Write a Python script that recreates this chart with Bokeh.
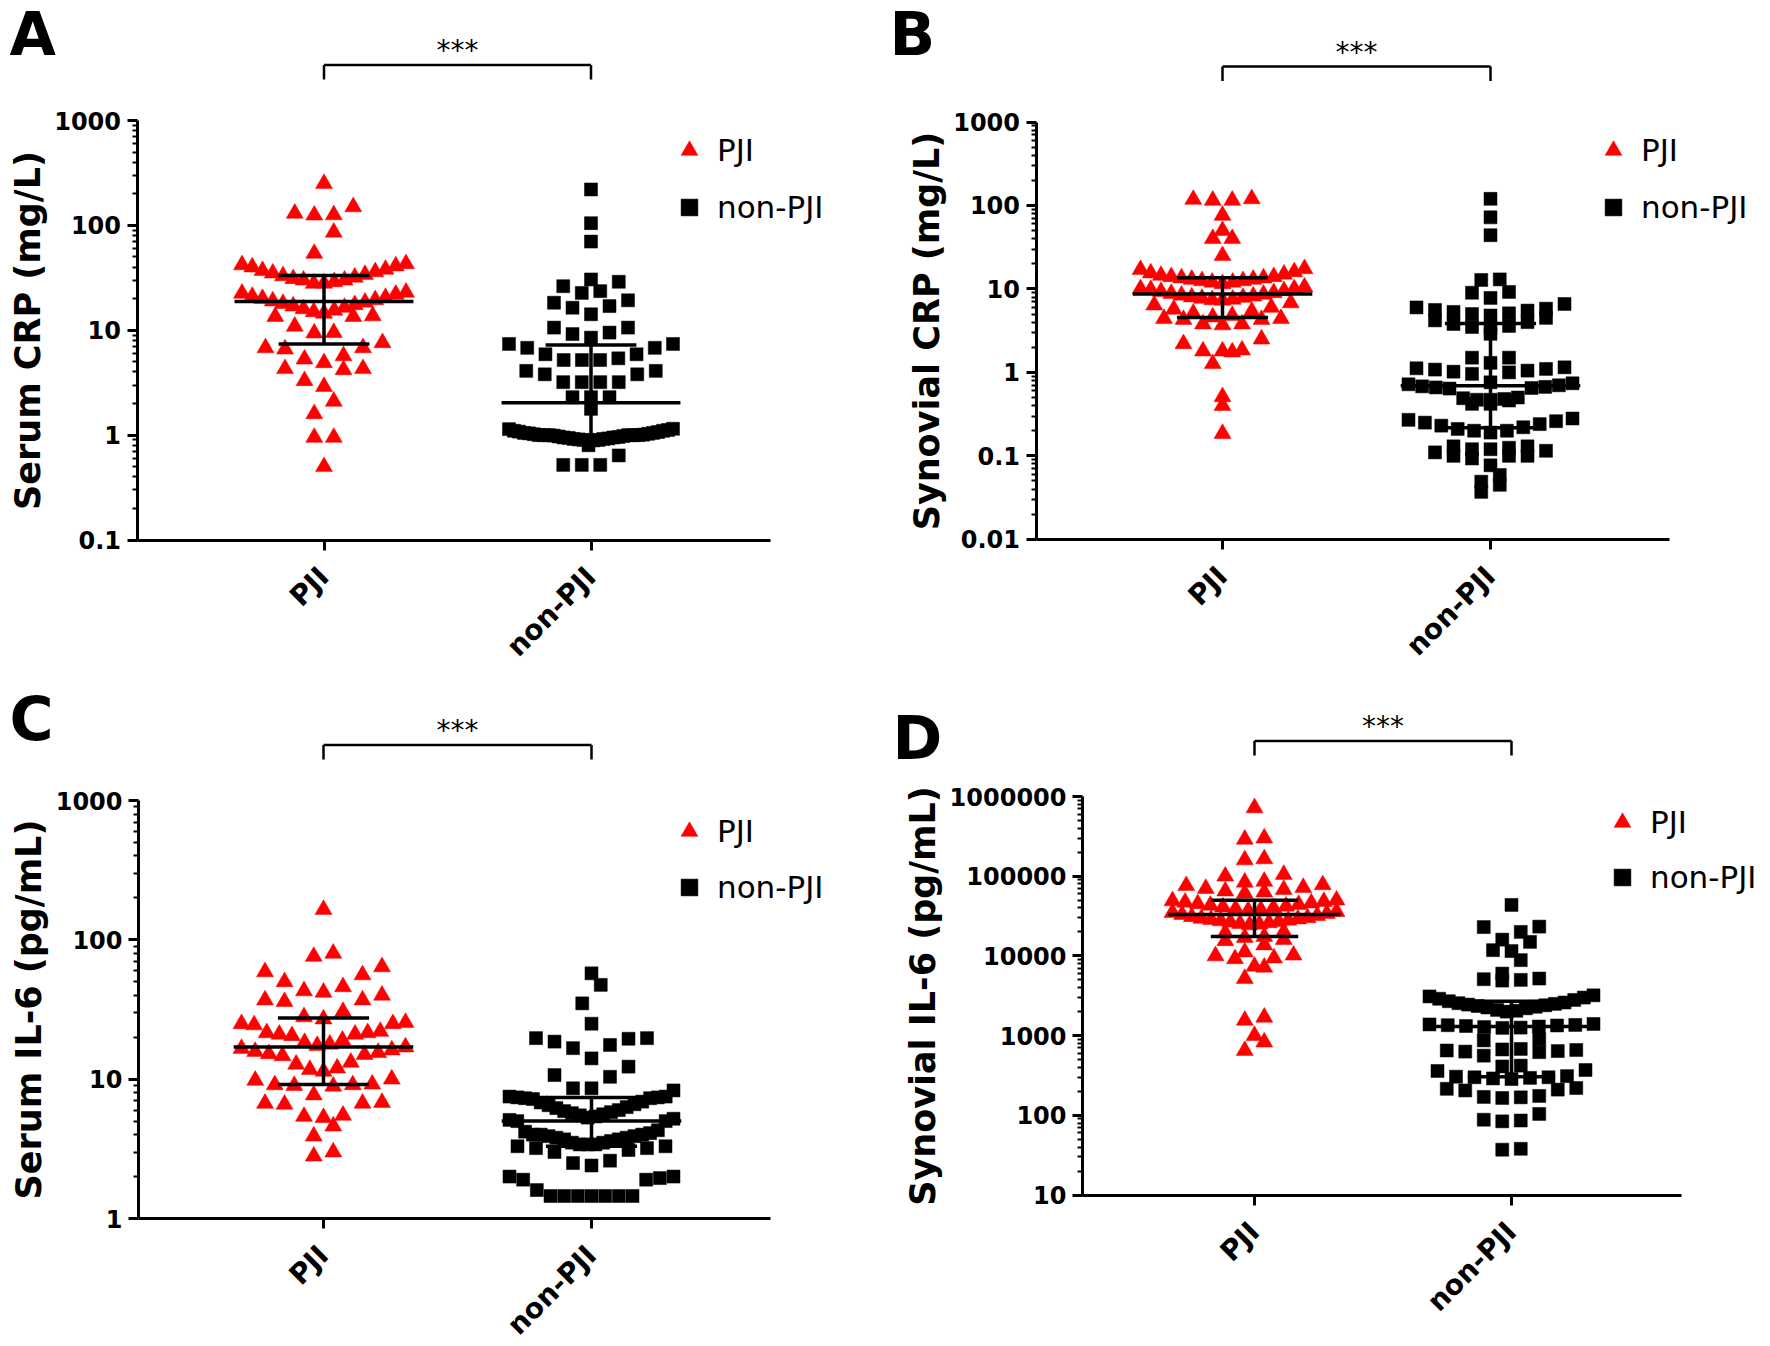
import math
import numpy as np
from bokeh.plotting import figure
from bokeh.layouts import gridplot
from bokeh.models import (FixedTicker, CustomJSTickFormatter, Label, Legend,
                          LegendItem, Range1d)
from bokeh.embed import file_html
from bokeh.resources import INLINE

# ---------------- data ----------------
categories = ["PJI", "non-PJI"]
group_labels = ["PJI", "non-PJI"]

# A: Serum CRP (mg/L)
a_pji = [250, 150, 130, 126, 125, 86, 54,
         43, 42, 41, 40, 38, 37, 36, 35, 34, 33, 32, 31, 30, 30, 29, 28, 28,
         23, 22.5, 22, 21, 20.5, 20, 19.5, 19, 18.5, 18, 17.5, 17, 16.5, 16, 15.5, 15, 14.5,
         13.7, 13.5, 13.5, 10.9, 9.5, 9.4, 7.6, 6.8, 6.8, 6.6, 5.7, 5.3, 4.9,
         4.3, 4.3, 4.2, 3.3, 2.9, 2.1, 1.6, 0.95, 0.95, 0.5]
a_non = [220, 105, 70, 30.5, 29, 26.3, 23.6, 22.7, 19.3, 18.3, 17, 16.4, 14.2,
         10.6, 10.6, 9.5, 9.2, 8.5, 7.4, 7.4, 6.8, 6.8, 5.9, 5.9, 5.4, 5.2, 5.2, 5.2,
         4.1, 4.1, 3.8, 3.8, 3.2, 3.2, 3.2, 3.2, 2.3, 2.3, 2.3, 1.78,
         1.15, 1.14, 1.12, 1.1, 1.1, 1.08, 1.07, 1.05, 1.05, 1.04, 1.03, 1.02, 1.01,
         1.0, 1.0, 1.0, 1.0, 1.0, 1.0, 0.99, 0.98, 0.97, 0.96, 0.95, 0.95, 0.94, 0.93,
         0.92, 0.92, 0.91, 0.9, 0.9, 0.89,
         0.8, 0.64, 0.52, 0.52, 0.52]

# B: Synovial CRP (mg/L)
b_pji = [120, 118, 115, 115, 76, 50, 40, 40, 25,
         17.4, 17, 16, 15.5, 15, 14.5, 14, 14, 13.5, 13.5, 13, 13, 12.5, 12.5, 12, 12, 11.5,
         10.5, 10, 10, 9.8, 9.5, 9.3, 9, 8.8, 8.6, 8.4, 8.2, 8, 7.9, 7.7, 7.5, 7.4, 7.3,
         6.8, 6.4, 6, 5.7, 5.4, 5.1, 4.8, 4.6,
         4.4, 4.4, 4.3, 4.3, 3.8, 3.8, 3.7, 2.5, 2.2, 1.85, 1.8, 1.8, 1.75, 1.27,
         0.51, 0.40, 0.185]
b_non = [120, 72, 44, 13, 12.8, 9.2, 9.0, 7.8, 6.6,
         6.0, 5.8, 5.6, 5.5, 5.3, 5.1, 5.0, 4.8, 4.5, 4.2, 4.0, 3.8, 3.6, 3.5, 3.4,
         2.9, 1.5, 1.5, 1.3,
         1.15, 1.12, 1.1, 1.08, 1.05, 1.02, 1.0, 0.96,
         0.76, 0.74, 0.72, 0.70, 0.68, 0.67, 0.66, 0.65, 0.64,
         0.50, 0.49, 0.48, 0.47, 0.47, 0.46, 0.42, 0.42,
         0.28, 0.27, 0.26, 0.25, 0.24, 0.23, 0.22, 0.21, 0.20, 0.20, 0.19,
         0.13, 0.13, 0.125, 0.12, 0.12, 0.115, 0.11,
         0.10, 0.10, 0.10, 0.093, 0.077, 0.059, 0.049, 0.045, 0.037]

# C: Serum IL-6 (pg/mL)
c_pji = [165, 80, 76, 64, 59, 56, 50, 46, 43, 42, 40, 37, 37, 36, 30.5, 28, 27, 25.5, 25, 25, 24.5,
         22, 21.5, 21.5, 21, 21, 20.5, 19, 18.3, 17.8, 17.4,
         17.0, 16.6, 16.2, 15.8, 15.5, 15.2, 15.0, 14.7, 13.2, 12.8, 12, 11.7, 11.4,
         10, 9.8, 9.2, 9.1, 9.1, 9.0, 8.9, 7.7, 6.8, 6.7, 6.7, 6.6, 5.5, 5.4, 5.3,
         4.6, 3.9, 3.0, 2.8]
c_non = [57.5, 47.5, 35, 25, 19.7, 19.7, 19.5, 18.6, 17.6, 16.7, 14.1, 12.3, 10.7, 10.4,
         8.6, 8.6, 8.3, 7.5, 7.5, 7.4, 7.4, 7.3, 7.3, 7.2,
         6.9, 6.8, 6.6, 6.5, 6.3, 6.2, 6.0, 5.9, 5.8, 5.7, 5.6, 5.5, 5.4, 5.3, 5.2, 5.1, 5.0, 5.0,
         4.3, 4.2, 4.1, 4.0, 4.0, 4.0, 3.9, 3.9, 3.8, 3.8, 3.7, 3.7, 3.6,
         3.5, 3.5, 3.4, 3.4, 3.4, 3.3, 3.3, 3.2, 3.2, 3.1, 3.0,
         2.6, 2.5, 2.4, 2.0, 2.0, 1.95, 1.9, 1.9, 1.6,
         1.45, 1.45, 1.45, 1.45, 1.45, 1.45, 1.45]

# D: Synovial IL-6 (pg/mL)
d_pji = [720000, 300000, 290000, 165000, 160000, 105000, 100000, 86000, 84000,
         78000, 76000, 72000, 70000, 68000, 65000, 63000, 61000,
         50000, 49000, 48000, 47000, 46000, 45000, 44000, 43000, 42000, 41000, 40000, 39000,
         38000, 37000,
         36000, 35000, 34000, 33000, 32000, 31000, 30000, 29500, 29000, 28500, 28000, 27500,
         27000, 26500, 26000, 25500, 25000, 24500,
         20000, 19500, 17500, 17000, 16000, 15500, 13700, 11200, 10200, 10000, 9400, 9200,
         7400, 7200, 5200, 1700, 1550, 1000, 830, 650]
d_non = [43600, 23300, 23000, 20000, 16000, 15000, 11800, 11500, 8850, 6000, 5200, 5100, 5000, 4900,
         3200, 3100, 3000, 2900, 2800, 2700, 2600, 2550, 2500, 2450, 2400, 2350, 2300, 2250,
         2200, 2100, 2050, 2000,
         1400, 1380, 1360, 1350, 1340, 1320, 1300, 1280, 1260, 1250,
         900, 870, 680, 670, 660, 650, 640, 630, 620, 560,
         420, 410, 370, 360, 310, 305, 300, 300, 295, 290, 285, 220, 215, 210, 205,
         175, 170, 168, 165, 104, 88, 86, 84, 38, 37]

a_ylabel = "Serum CRP (mg/L)"
b_ylabel = "Synovial CRP (mg/L)"
c_ylabel = "Serum IL-6 (pg/mL)"
d_ylabel = "Synovial IL-6 (pg/mL)"

a_yticks = [0.1, 1, 10, 100, 1000]
b_yticks = [0.01, 0.1, 1, 10, 100, 1000]
c_yticks = [1, 10, 100, 1000]
d_yticks = [10, 100, 1000, 10000, 100000, 1000000]

significance = "***"

# ---------------- layout / style ----------------
RED = "#FF0000"
BLACK = "#000000"
TRI_SIZE = 17
SQ_SIZE = 13
TRI_SPACING = 19.5
SQ_SPACING = 18.5
MAX_HALF = 82
FIG_W, FIG_H = 884, 672

# geometry in pixels inside each figure: y-axis x, axis top/bottom y, x-axis end,
# first category x, pixels per category step; legend box bottom-left; letter centre
panels = [
    dict(letter="A", ylabel=a_ylabel, ticks=a_yticks, data=(a_pji, a_non),
         ax=136.5, top=120, bot=539.5, right=770, cat0=323.5, unit=267,
         legend=(668, 444), lspacing=15, letter_xy=(9, 33),
         bins=((0.26, 1.155), (0.198, -0.1))),
    dict(letter="B", ylabel=b_ylabel, ticks=b_yticks, data=(b_pji, b_non),
         ax=151.5, top=121.5, bot=538.8, right=785, cat0=338, unit=268,
         legend=(708, 444), lspacing=15, letter_xy=(5, 33),
         bins=((0.2, 0.645), (0.2, -0.53))),
    dict(letter="C", ylabel=c_ylabel, ticks=c_yticks, data=(c_pji, c_non),
         ax=138, top=128, bot=546, right=770, cat0=323, unit=268,
         legend=(668, 436), lspacing=14, letter_xy=(9, 46),
         bins=((0.19, 1.24), (0.2, 0.32))),
    dict(letter="D", ylabel=d_ylabel, ticks=d_yticks, data=(d_pji, d_non),
         ax=198, top=124, bot=522.5, right=797, cat0=370, unit=257,
         legend=(717, 446), lspacing=13, letter_xy=(8, 65),
         bins=((0.175, 4.385), (0.23, 3.28))),
]


def swarm(vals, unit_px, spacing_px, step_dec, base_log):
    """GraphPad-like column scatter: bin by log value, spread each bin
    horizontally (lowest value at centre), compress wide bins."""
    v = np.asarray(vals, float)
    lv = np.log10(v)
    bins = np.floor((lv - base_log) / step_dec + 1e-9).astype(int)
    off = np.zeros(len(v))
    for b in np.unique(bins):
        idx = np.where(bins == b)[0]
        idx = idx[np.argsort(v[idx], kind="stable")]
        m = len(idx)
        sp = spacing_px if m < 2 else min(spacing_px, 2 * MAX_HALF / (m - 1))
        if m % 2:
            seq = [0] + [s * k for k in range(1, m) for s in (-1, 1)]
        else:
            seq = [s * (k - 0.5) for k in range(1, m) for s in (-1, 1)]
        off[idx] = np.array(seq[:m]) * sp
    return off / unit_px


fmt = CustomJSTickFormatter(code="""
if (tick >= 1) { return Math.round(tick).toString(); }
return String(parseFloat(tick.toPrecision(3)));
""")

figs = []
for cfg in panels:
    ticks = cfg["ticks"]
    ymin, ymax = ticks[0], ticks[-1]
    lmin, lmax = math.log10(ymin), math.log10(ymax)
    ppd = (cfg["bot"] - cfg["top"]) / (lmax - lmin)
    unit = cfg["unit"]
    x0 = 1 - cfg["cat0"] / unit
    x1 = x0 + FIG_W / unit
    y0 = 10 ** (lmin - (FIG_H - cfg["bot"]) / ppd)
    y1 = 10 ** (lmax + cfg["top"] / ppd)
    x_axis_left = 1 - (cfg["cat0"] - cfg["ax"]) / unit
    x_axis_right = 1 + (cfg["right"] - cfg["cat0"]) / unit

    p = figure(frame_width=FIG_W, frame_height=FIG_H, min_border=0,
               x_range=Range1d(x0, x1), y_range=Range1d(y0, y1),
               y_axis_type="log", output_backend="svg", toolbar_location=None)
    p.xgrid.visible = False
    p.ygrid.visible = False
    p.outline_line_color = None
    p.background_fill_color = "white"
    p.border_fill_color = "white"

    xa = p.xaxis[0]
    ya = p.yaxis[0]
    xa.fixed_location = ymin
    ya.fixed_location = x_axis_left
    xa.bounds = (x_axis_left, x_axis_right)
    ya.bounds = (ymin, ymax)

    for ax in (xa, ya):
        ax.axis_line_width = 3
        ax.axis_line_color = BLACK
        ax.major_tick_line_width = 3
        ax.major_tick_line_color = BLACK
        ax.major_tick_in = 0
        ax.major_tick_out = 10
        ax.major_label_text_font = "DejaVu Sans"
        ax.major_label_text_font_style = "bold"
        ax.major_label_text_color = BLACK
    xa.ticker = FixedTicker(ticks=[1, 2])
    xa.major_label_overrides = {1: categories[0], 2: categories[1]}
    xa.major_label_orientation = math.pi / 4
    xa.major_label_text_font_size = "28px"
    xa.major_label_standoff = 22
    xa.minor_tick_line_color = None

    minors = [k * 10.0 ** d for d in range(int(round(lmin)), int(round(lmax)))
              for k in range(2, 10)]
    ya.ticker = FixedTicker(ticks=ticks, minor_ticks=minors)
    ya.formatter = fmt
    ya.major_label_text_font_size = "24px"
    ya.major_label_standoff = 6
    ya.minor_tick_in = 0
    ya.minor_tick_out = 5
    ya.minor_tick_line_width = 2
    ya.minor_tick_line_color = BLACK
    ya.axis_label = cfg["ylabel"]
    ya.axis_label_text_font = "DejaVu Sans"
    ya.axis_label_text_font_style = "bold"
    ya.axis_label_text_font_size = "35px"
    ya.axis_label_text_color = BLACK
    ya.axis_label_standoff = 4

    # points
    pji_vals, non_vals = cfg["data"]
    (s1, b1), (s2, b2) = cfg["bins"]
    xo1 = 1 + swarm(pji_vals, unit, TRI_SPACING, s1, b1)
    xo2 = 2 + swarm(non_vals, unit, SQ_SPACING, s2, b2)
    r1 = p.scatter(xo1, pji_vals, marker="triangle", size=TRI_SIZE,
                   fill_color=RED, line_color=RED, line_width=0.5)
    r2 = p.scatter(xo2, non_vals, marker="square", size=SQ_SIZE,
                   fill_color=BLACK, line_color=BLACK, line_width=0.5)

    # median + interquartile range
    for ci, vals in ((1, pji_vals), (2, non_vals)):
        q1, med, q3 = np.percentile(vals, [25, 50, 75])
        p.segment(x0=[ci - 0.335, ci - 0.17, ci - 0.17, ci], y0=[med, q1, q3, q1],
                  x1=[ci + 0.335, ci + 0.17, ci + 0.17, ci], y1=[med, q1, q3, q3],
                  line_color=BLACK, line_width=3.5)

    # significance bracket above the data area
    y_hi = 10 ** (lmax + 55.5 / ppd)
    y_lo = 10 ** (lmax + 41 / ppd)
    p.segment(x0=[1, 1, 2], y0=[y_hi, y_hi, y_hi], x1=[2, 1, 2], y1=[y_hi, y_lo, y_lo],
              line_color=BLACK, line_width=2.5)
    p.add_layout(Label(x=1.5, y=10 ** (lmax + 70 / ppd), x_units="data", y_units="data",
                       text=significance, text_align="center", text_baseline="middle",
                       text_font="DejaVu Sans", text_font_size="28px", text_color=BLACK))

    # panel letter
    lx, ly = cfg["letter_xy"]
    p.add_layout(Label(x=lx, y=FIG_H - ly, x_units="screen", y_units="screen",
                       text=cfg["letter"], text_align="left", text_baseline="middle",
                       text_font="DejaVu Sans", text_font_style="bold",
                       text_font_size="60px", text_color=BLACK))

    # legend
    leg = Legend(items=[LegendItem(label=group_labels[0], renderers=[r1]),
                        LegendItem(label=group_labels[1], renderers=[r2])],
                 location=cfg["legend"], orientation="vertical",
                 glyph_width=42, glyph_height=42, label_height=42,
                 spacing=cfg["lspacing"], label_standoff=7,
                 padding=0, margin=0, border_line_color=None,
                 background_fill_alpha=0,
                 label_text_font="DejaVu Sans", label_text_font_size="31px",
                 label_text_color=BLACK)
    p.add_layout(leg, "center")
    figs.append(p)

grid = gridplot([[figs[0], figs[1]], [figs[2], figs[3]]], toolbar_location=None)

open("out.html", "w").write(file_html(grid, INLINE))
